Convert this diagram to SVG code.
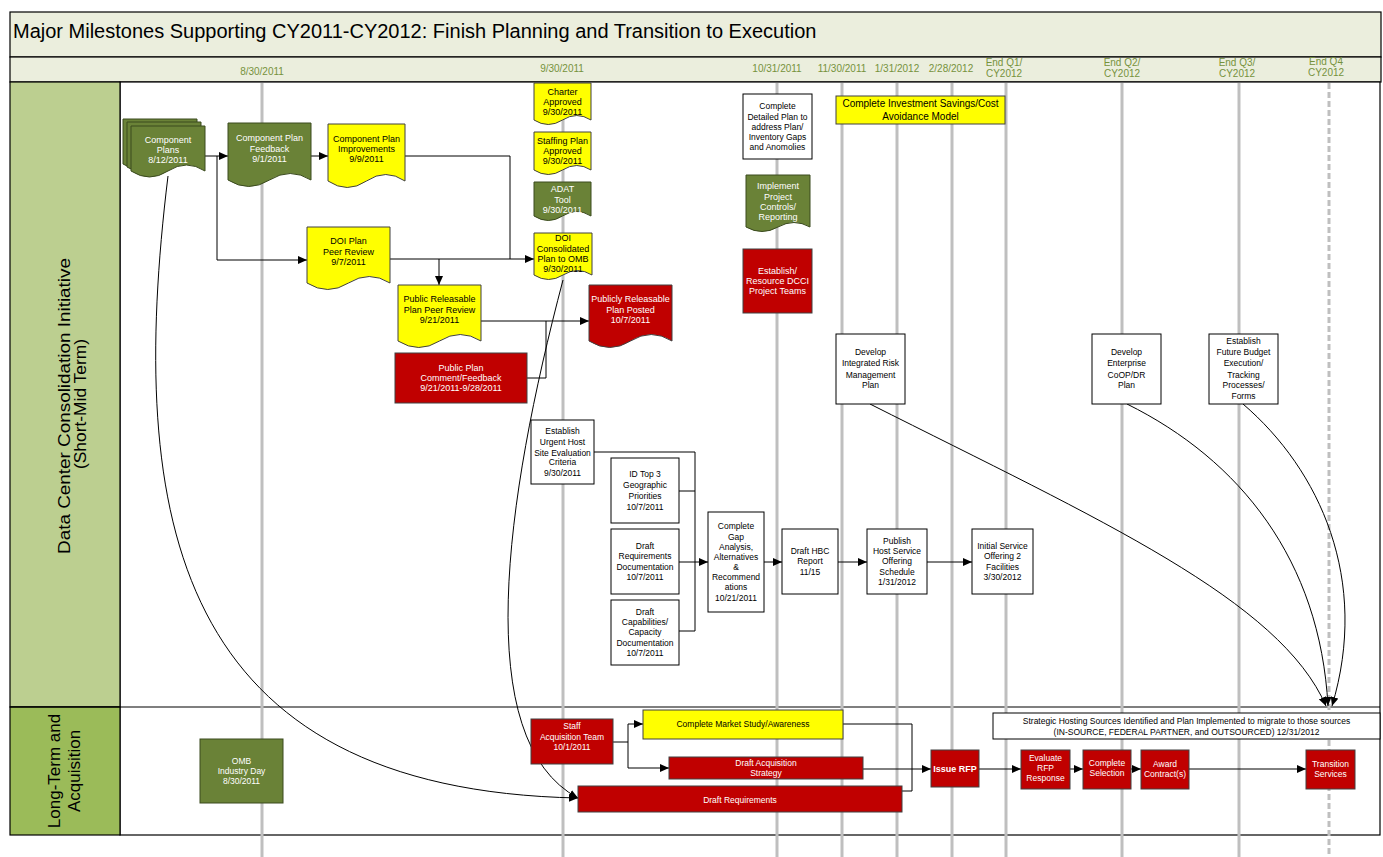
<svg xmlns="http://www.w3.org/2000/svg" width="1383" height="857" viewBox="0 0 1383 857">
  <defs>
    <marker id="ah" markerUnits="userSpaceOnUse" markerWidth="9" markerHeight="8" refX="9" refY="4" orient="auto">
      <path d="M0,0 L9,4 L0,8 Z" fill="#000"/>
    </marker>
  </defs>
  <style>
    text { font-family: "Liberation Sans", Arial, sans-serif; }
    .n { text-anchor: middle; font-size: 9px; }
    .s { text-anchor: middle; font-size: 8.5px; }
    .wt { fill: #ffffff; }
    .bt { fill: #000000; }
    .date { text-anchor: middle; font-size: 10px; fill: #76923C; }
    .tl { stroke: #BFBFBF; stroke-width: 3; fill: none; }
    .c { fill: none; stroke: #000; stroke-width: 1; marker-end: url(#ah); }
    .cn { fill: none; stroke: #000; stroke-width: 1; }
    .g { fill: #6A8237; stroke: #3A4A1E; stroke-width: 1; }
    .y { fill: #FFFF00; stroke: #404040; stroke-width: 1; }
    .r { fill: #C00000; stroke: #404040; stroke-width: 1; }
    .wb { fill: #FFFFFF; stroke: #000; stroke-width: 1; }
    .hdr { fill: #EBEEDD; stroke: #000; stroke-width: 1.2; }
  </style>

  <!-- frame, title and timeline header -->
  <rect x="0" y="0" width="1383" height="857" fill="#FFFFFF"/>
  <rect class="hdr" x="10" y="12" width="1371" height="45"/>
  <text x="13" y="38" font-size="20" fill="#000">Major Milestones Supporting CY2011-CY2012: Finish Planning and Transition to Execution</text>
  <rect class="hdr" x="10" y="57" width="1371" height="25"/>

  <g id="dates">
    <text class="date" x="262" y="75">8/30/2011</text>
    <text class="date" x="562" y="72">9/30/2011</text>
    <text class="date" x="777" y="72">10/31/2011</text>
    <text class="date" x="842" y="72">11/30/2011</text>
    <text class="date" x="897" y="72">1/31/2012</text>
    <text class="date" x="951" y="72">2/28/2012</text>
    <text class="date" x="1004" y="66">End Q1/</text>
    <text class="date" x="1004" y="77">CY2012</text>
    <text class="date" x="1122" y="66">End Q2/</text>
    <text class="date" x="1122" y="77">CY2012</text>
    <text class="date" x="1237" y="66">End Q3/</text>
    <text class="date" x="1237" y="77">CY2012</text>
    <text class="date" x="1326" y="65">End Q4</text>
    <text class="date" x="1326" y="76">CY2012</text>
  </g>

  <!-- swimlanes -->
  <g id="lanes">
    <rect x="120" y="82" width="1260" height="753" fill="#FFFFFF" stroke="#000" stroke-width="1.2"/>
    <rect x="10" y="82" width="110" height="625" fill="#BCCF90" stroke="#000" stroke-width="1.2"/>
    <rect x="10" y="707" width="110" height="128" fill="#9BBB59" stroke="#000" stroke-width="1.2"/>
    <line x1="10" y1="707" x2="1380" y2="707" stroke="#000" stroke-width="1.2"/>
    <text transform="translate(70,406) rotate(-90)" text-anchor="middle" font-size="16" fill="#000" textLength="296" lengthAdjust="spacingAndGlyphs">Data Center Consolidation Initiative</text>
    <text transform="translate(86,404) rotate(-90)" text-anchor="middle" font-size="16" fill="#000" textLength="130" lengthAdjust="spacingAndGlyphs">(Short-Mid Term)</text>
    <text transform="translate(60,771) rotate(-90)" text-anchor="middle" font-size="17" fill="#000">Long-Term and</text>
    <text transform="translate(80,771) rotate(-90)" text-anchor="middle" font-size="17" fill="#000">Acquisition</text>
  </g>

  <!-- timeline markers -->
  <g id="timeline">
    <line class="tl" x1="262" y1="83" x2="262" y2="857"/>
    <line class="tl" x1="563" y1="83" x2="563" y2="857"/>
    <line class="tl" x1="777" y1="83" x2="777" y2="857"/>
    <line class="tl" x1="842" y1="83" x2="842" y2="857"/>
    <line class="tl" x1="897" y1="83" x2="897" y2="857"/>
    <line class="tl" x1="952" y1="83" x2="952" y2="857"/>
    <line class="tl" x1="1006" y1="83" x2="1006" y2="857"/>
    <line class="tl" x1="1122" y1="83" x2="1122" y2="857"/>
    <line class="tl" x1="1239" y1="83" x2="1239" y2="857"/>
    <line class="tl" x1="1329" y1="83" x2="1329" y2="857" stroke-dasharray="6,3"/>
  </g>

  <!-- connectors -->
  <g id="connectors">
    <path class="c" d="M205,156 H228"/>
    <path class="c" d="M217,156 V260 H307"/>
    <path class="c" d="M311,156 H328"/>
    <path class="cn" d="M405,156 H510 V259"/>
    <path class="c" d="M390,259 H534"/>
    <path class="c" d="M439,259 V285"/>
    <path class="c" d="M481,321 H589"/>
    <path class="cn" d="M527,378 H546 V321"/>

    <path class="cn" d="M594,452 H695 V631 H679"/>
    <path class="cn" d="M679,491 H695"/>
    <path class="c" d="M679,562 H708"/>
    <path class="c" d="M764,562 H782"/>
    <path class="c" d="M838,562 H867"/>
    <path class="c" d="M927,562 H972"/>

    <path class="c" d="M168,176 C126,520 175,790 578,798"/>
    <path class="c" d="M563,280 C505,500 470,740 578,798"/>
    <path class="c" d="M870,404 C1100,520 1280,600 1326,706"/>
    <path class="c" d="M1127,404 C1240,460 1320,560 1328,706"/>
    <path class="c" d="M1243,404 C1320,470 1370,580 1332,706"/>

    <path class="c" d="M613,742 H628 V724 H643"/>
    <path class="c" d="M628,742 V768 H669"/>
    <path class="cn" d="M843,724 H912 V769"/>
    <path class="cn" d="M902,791 H912 V769"/>
    <path class="c" d="M863,769 H931"/>
    <path class="c" d="M979,769 H1021"/>
    <path class="c" d="M1070,769 H1083"/>
    <path class="c" d="M1131,769 H1141"/>
    <path class="c" d="M1189,769 H1306"/>
  </g>

  <!-- lane 1 nodes -->
  <g id="component-plans">
    <path class="g" d="M123,119 H197 V164 Q178.5,152 160,164 T123,164 Z"/>
    <path class="g" d="M127,122 H201 V167 Q182.5,155 164,167 T127,167 Z"/>
    <path class="g" d="M131,126 H205 V171 Q186.5,159 168,171 T131,171 Z"/>
    <text class="n wt"><tspan x="168" y="143">Component</tspan><tspan x="168" y="153">Plans</tspan><tspan x="168" y="163">8/12/2011</tspan></text>
  </g>
  <g id="plan-feedback">
    <path class="g" d="M228,123 H311 V180 Q290.25,167 269.5,180 T228,180 Z"/>
    <text class="n wt"><tspan x="269.5" y="141">Component Plan</tspan><tspan x="269.5" y="152">Feedback</tspan><tspan x="269.5" y="162">9/1/2011</tspan></text>
  </g>
  <g id="plan-improvements">
    <path class="y" d="M328,124 H405 V181 Q385.75,168 366.5,181 T328,181 Z"/>
    <text class="n bt"><tspan x="366.5" y="142">Component Plan</tspan><tspan x="366.5" y="152">Improvements</tspan><tspan x="366.5" y="162">9/9/2011</tspan></text>
  </g>
  <g id="doi-peer-review">
    <path class="y" d="M307,227 H390 V283 Q369.25,270 348.5,283 T307,283 Z"/>
    <text class="n bt"><tspan x="348.5" y="244">DOI Plan</tspan><tspan x="348.5" y="255">Peer Review</tspan><tspan x="348.5" y="265">9/7/2011</tspan></text>
  </g>
  <g id="public-peer-review">
    <path class="y" d="M398,285 H481 V341 Q460.25,328 439.5,341 T398,341 Z"/>
    <text class="n bt"><tspan x="439.5" y="302">Public Releasable</tspan><tspan x="439.5" y="313">Plan Peer Review</tspan><tspan x="439.5" y="323">9/21/2011</tspan></text>
  </g>
  <g id="public-plan-posted">
    <path class="r" d="M589,285 H672 V341 Q651.25,328 630.5,341 T589,341 Z"/>
    <text class="n wt"><tspan x="630.5" y="302">Publicly Releasable</tspan><tspan x="630.5" y="313">Plan Posted</tspan><tspan x="630.5" y="323">10/7/2011</tspan></text>
  </g>
  <g id="public-comment">
    <rect class="r" x="395" y="353" width="132" height="50"/>
    <text class="n wt"><tspan x="461" y="371">Public Plan</tspan><tspan x="461" y="381">Comment/Feedback</tspan><tspan x="461" y="391">9/21/2011-9/28/2011</tspan></text>
  </g>
  <g id="charter">
    <path class="y" d="M534,83 H591 V120 Q576.75,111 562.5,120 T534,120 Z"/>
    <text class="n bt"><tspan x="562.5" y="95">Charter</tspan><tspan x="562.5" y="105">Approved</tspan><tspan x="562.5" y="115">9/30/2011</tspan></text>
  </g>
  <g id="staffing">
    <path class="y" d="M534,132 H591 V170 Q576.75,161 562.5,170 T534,170 Z"/>
    <text class="n bt"><tspan x="562.5" y="144">Staffing Plan</tspan><tspan x="562.5" y="154">Approved</tspan><tspan x="562.5" y="164">9/30/2011</tspan></text>
  </g>
  <g id="adat">
    <path class="g" d="M534,182 H591 V216 Q576.75,207 562.5,216 T534,216 Z"/>
    <text class="n wt"><tspan x="562.5" y="192">ADAT</tspan><tspan x="562.5" y="203">Tool</tspan><tspan x="562.5" y="213">9/30/2011</tspan></text>
  </g>
  <g id="doi-consolidated">
    <path class="y" d="M534,233 H592 V275 Q577.5,266 563,275 T534,275 Z"/>
    <text class="n bt"><tspan x="563" y="241">DOI</tspan><tspan x="563" y="252">Consolidated</tspan><tspan x="563" y="262">Plan to OMB</tspan><tspan x="563" y="272">9/30/2011</tspan></text>
  </g>
  <g id="detailed-plan">
    <rect class="wb" x="743" y="94" width="69" height="65"/>
    <text class="s bt"><tspan x="777.5" y="109">Complete</tspan><tspan x="777.5" y="119.5">Detailed Plan to</tspan><tspan x="777.5" y="130">address Plan/</tspan><tspan x="777.5" y="140">Inventory Gaps</tspan><tspan x="777.5" y="150">and Anomolies</tspan></text>
  </g>
  <g id="project-controls">
    <path class="g" d="M746,175 H810 V227 Q794,218 778,227 T746,227 Z"/>
    <text class="n wt"><tspan x="778" y="189">Implement</tspan><tspan x="778" y="200">Project</tspan><tspan x="778" y="210">Controls/</tspan><tspan x="778" y="220">Reporting</tspan></text>
  </g>
  <g id="dcci-teams">
    <rect class="r" x="743" y="249" width="69" height="64"/>
    <text class="n wt"><tspan x="777.5" y="274">Establish/</tspan><tspan x="777.5" y="284">Resource DCCI</tspan><tspan x="777.5" y="294">Project Teams</tspan></text>
  </g>
  <g id="savings-model">
    <rect class="y" x="836" y="96" width="169" height="28" stroke="#000"/>
    <text text-anchor="middle" font-size="10" fill="#000"><tspan x="920.5" y="107">Complete Investment Savings/Cost</tspan><tspan x="920.5" y="119.5">Avoidance Model</tspan></text>
  </g>
  <g id="risk-plan">
    <rect class="wb" x="836" y="334" width="69" height="70"/>
    <text class="s bt"><tspan x="870.5" y="355">Develop</tspan><tspan x="870.5" y="366">Integrated Risk</tspan><tspan x="870.5" y="378">Management</tspan><tspan x="870.5" y="388">Plan</tspan></text>
  </g>
  <g id="coop-plan">
    <rect class="wb" x="1092" y="334" width="69" height="70"/>
    <text class="s bt"><tspan x="1126.5" y="355">Develop</tspan><tspan x="1126.5" y="366">Enterprise</tspan><tspan x="1126.5" y="378">CoOP/DR</tspan><tspan x="1126.5" y="388">Plan</tspan></text>
  </g>
  <g id="budget-processes">
    <rect class="wb" x="1209" y="334" width="69" height="70"/>
    <text class="s bt"><tspan x="1243.5" y="344">Establish</tspan><tspan x="1243.5" y="355">Future Budget</tspan><tspan x="1243.5" y="366">Execution/</tspan><tspan x="1243.5" y="378">Tracking</tspan><tspan x="1243.5" y="388">Processes/</tspan><tspan x="1243.5" y="399">Forms</tspan></text>
  </g>
  <g id="host-criteria">
    <rect class="wb" x="531" y="420" width="63" height="64"/>
    <text class="s bt"><tspan x="562.5" y="434">Establish</tspan><tspan x="562.5" y="445">Urgent Host</tspan><tspan x="562.5" y="456">Site Evaluation</tspan><tspan x="562.5" y="465">Criteria</tspan><tspan x="562.5" y="476">9/30/2011</tspan></text>
  </g>
  <g id="geo-priorities">
    <rect class="wb" x="611" y="458" width="68" height="65"/>
    <text class="s bt"><tspan x="645" y="477">ID Top 3</tspan><tspan x="645" y="488">Geographic</tspan><tspan x="645" y="499">Priorities</tspan><tspan x="645" y="510">10/7/2011</tspan></text>
  </g>
  <g id="requirements-doc">
    <rect class="wb" x="611" y="529" width="68" height="65"/>
    <text class="s bt"><tspan x="645" y="549">Draft</tspan><tspan x="645" y="559">Requirements</tspan><tspan x="645" y="570">Documentation</tspan><tspan x="645" y="580">10/7/2011</tspan></text>
  </g>
  <g id="capacity-doc">
    <rect class="wb" x="611" y="600" width="68" height="65"/>
    <text class="s bt"><tspan x="645" y="615">Draft</tspan><tspan x="645" y="625">Capabilities/</tspan><tspan x="645" y="635">Capacity</tspan><tspan x="645" y="646">Documentation</tspan><tspan x="645" y="656">10/7/2011</tspan></text>
  </g>
  <g id="gap-analysis">
    <rect class="wb" x="708" y="512" width="56" height="100"/>
    <text class="s bt"><tspan x="736" y="529">Complete</tspan><tspan x="736" y="540">Gap</tspan><tspan x="736" y="550">Analysis,</tspan><tspan x="736" y="560">Alternatives</tspan><tspan x="736" y="570">&amp;</tspan><tspan x="736" y="580">Recommend</tspan><tspan x="736" y="590">ations</tspan><tspan x="736" y="601">10/21/2011</tspan></text>
  </g>
  <g id="hbc-report">
    <rect class="wb" x="782" y="529" width="56" height="65"/>
    <text class="s bt"><tspan x="810" y="554">Draft HBC</tspan><tspan x="810" y="564">Report</tspan><tspan x="810" y="575">11/15</tspan></text>
  </g>
  <g id="offering-schedule">
    <rect class="wb" x="867" y="529" width="60" height="65"/>
    <text class="s bt"><tspan x="897" y="544">Publish</tspan><tspan x="897" y="554">Host Service</tspan><tspan x="897" y="564">Offering</tspan><tspan x="897" y="575">Schedule</tspan><tspan x="897" y="585">1/31/2012</tspan></text>
  </g>
  <g id="initial-service">
    <rect class="wb" x="972" y="529" width="61" height="65"/>
    <text class="s bt"><tspan x="1002.5" y="549">Initial Service</tspan><tspan x="1002.5" y="559">Offering 2</tspan><tspan x="1002.5" y="570">Facilities</tspan><tspan x="1002.5" y="580">3/30/2012</tspan></text>
  </g>

  <!-- lane 2 nodes -->
  <g id="industry-day">
    <rect class="g" x="200" y="739" width="83" height="64"/>
    <text class="s wt"><tspan x="241.5" y="764">OMB</tspan><tspan x="241.5" y="774">Industry Day</tspan><tspan x="241.5" y="784">8/30/2011</tspan></text>
  </g>
  <g id="acquisition-team">
    <rect class="r" x="531" y="719" width="82" height="45"/>
    <text class="s wt"><tspan x="572" y="729">Staff</tspan><tspan x="572" y="740">Acquisition Team</tspan><tspan x="572" y="750">10/1/2011</tspan></text>
  </g>
  <g id="market-study">
    <rect class="y" x="643" y="710" width="200" height="29"/>
    <text class="s bt" x="743" y="727">Complete Market Study/Awareness</text>
  </g>
  <g id="acquisition-strategy">
    <rect class="r" x="669" y="757" width="194" height="22"/>
    <text class="s wt"><tspan x="766" y="766">Draft Acquisition</tspan><tspan x="766" y="776">Strategy</tspan></text>
  </g>
  <g id="draft-requirements">
    <rect class="r" x="578" y="786" width="324" height="26"/>
    <text class="s wt" x="740" y="803">Draft Requirements</text>
  </g>
  <g id="issue-rfp">
    <rect class="r" x="931" y="750" width="48" height="37"/>
    <text class="n wt" x="955" y="772" font-weight="bold">Issue RFP</text>
  </g>
  <g id="evaluate-rfp">
    <rect class="r" x="1021" y="750" width="49" height="39"/>
    <text class="s wt"><tspan x="1045.5" y="761">Evaluate</tspan><tspan x="1045.5" y="771">RFP</tspan><tspan x="1045.5" y="781">Response</tspan></text>
  </g>
  <g id="complete-selection">
    <rect class="r" x="1083" y="750" width="48" height="39"/>
    <text class="s wt"><tspan x="1107" y="766">Complete</tspan><tspan x="1107" y="776">Selection</tspan></text>
  </g>
  <g id="award-contracts">
    <rect class="r" x="1141" y="750" width="48" height="39"/>
    <text class="s wt"><tspan x="1165" y="767">Award</tspan><tspan x="1165" y="777">Contract(s)</tspan></text>
  </g>
  <g id="transition-services">
    <rect class="r" x="1306" y="750" width="49" height="39"/>
    <text class="s wt"><tspan x="1330.5" y="767">Transition</tspan><tspan x="1330.5" y="777">Services</tspan></text>
  </g>
  <g id="strategic-sources">
    <rect class="wb" x="993" y="713" width="387" height="26"/>
    <text class="s bt"><tspan x="1186.5" y="724">Strategic Hosting Sources Identified and Plan Implemented to migrate to those sources</tspan><tspan x="1186.5" y="735">(IN-SOURCE, FEDERAL PARTNER, and OUTSOURCED) 12/31/2012</tspan></text>
  </g>
</svg>
